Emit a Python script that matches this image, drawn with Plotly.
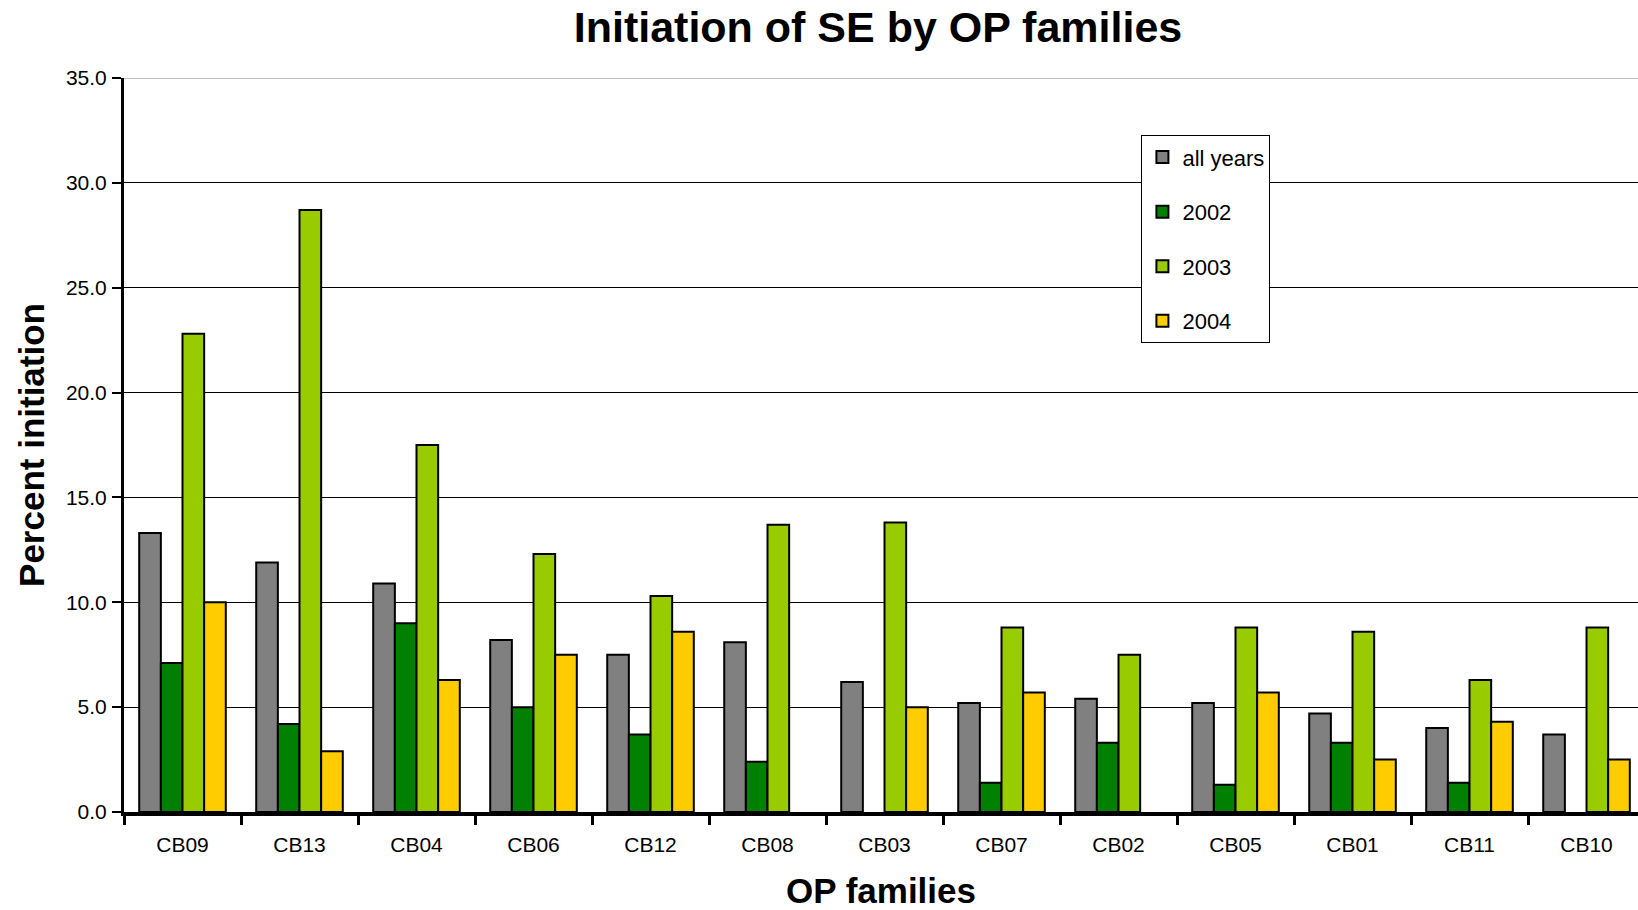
import plotly.graph_objects as go

# OP families and percent initiation of SE per year group
families = ["CB09", "CB13", "CB04", "CB06", "CB12", "CB08", "CB03",
            "CB07", "CB02", "CB05", "CB01", "CB11", "CB10"]
all_years = [13.3, 11.9, 10.9, 8.2, 7.5, 8.1, 6.2, 5.2, 5.4, 5.2, 4.7, 4.0, 3.7]
y2002 = [7.1, 4.2, 9.0, 5.0, 3.7, 2.4, None, 1.4, 3.3, 1.3, 3.3, 1.4, None]
y2003 = [22.8, 28.7, 17.5, 12.3, 10.3, 13.7, 13.8, 8.8, 7.5, 8.8, 8.6, 6.3, 8.8]
y2004 = [10.0, 2.9, 6.3, 7.5, 8.6, None, 5.0, 5.7, None, 5.7, 2.5, 4.3, 2.5]

series = [
    ("all years", all_years, "#808080"),
    ("2002", y2002, "#008000"),
    ("2003", y2003, "#99CC00"),
    ("2004", y2004, "#FFCC00"),
]

FONT = "Arial, 'Liberation Sans', sans-serif"

fig = go.Figure()
for name, vals, color in series:
    fig.add_trace(go.Bar(
        x=families, y=vals, name=name, legendgroup=name,
        marker=dict(color=color, line=dict(color="black", width=2)),
    ))

fig.update_layout(
    width=1638, height=910,
    margin=dict(l=124, r=0, t=78, b=98),
    paper_bgcolor="white", plot_bgcolor="white",
    barmode="group", bargap=0.26, bargroupgap=0,
    font=dict(family=FONT, color="black", size=21),
    title=dict(text="<b>Initiation of SE by OP families</b>",
               x=878 / 1638, xanchor="center", y=1 - 27 / 910, yanchor="middle",
               font=dict(size=43, family=FONT, color="black")),
    legend=dict(x=0.672, y=0.922, xanchor="left", yanchor="top",
                bordercolor="black", borderwidth=1, bgcolor="white",
                font=dict(size=22, family=FONT), tracegroupgap=23,
                itemwidth=30),
    xaxis=dict(
        type="category", range=[-0.5, 12.44],
        showline=True, linecolor="black", linewidth=4,
        ticks="outside", tickson="boundaries", ticklen=9, tickwidth=3,
        tickcolor="black", ticklabelstandoff=11,
        tickfont=dict(size=21, family=FONT),
        title=dict(text="<b>OP families</b>", standoff=24,
                   font=dict(size=35, family=FONT)),
        showgrid=False,
    ),
    yaxis=dict(
        range=[0, 35], dtick=5, tickformat=".1f",
        showline=True, linecolor="black", linewidth=3,
        ticks="outside", ticklen=9, tickwidth=2, tickcolor="black",
        ticklabelstandoff=1,
        tickfont=dict(size=21, family=FONT),
        showgrid=True, gridcolor="black", gridwidth=1,
        zeroline=False,
        title=dict(text="<b>Percent initiation</b>", standoff=11,
                   font=dict(size=35, family=FONT)),
    ),
)

# light top border of the plotting area
fig.add_shape(type="line", xref="paper", yref="y", x0=0, x1=1, y0=35, y1=35,
              line=dict(color="#C0C0C0", width=2))

fig.write_html("out.html")
